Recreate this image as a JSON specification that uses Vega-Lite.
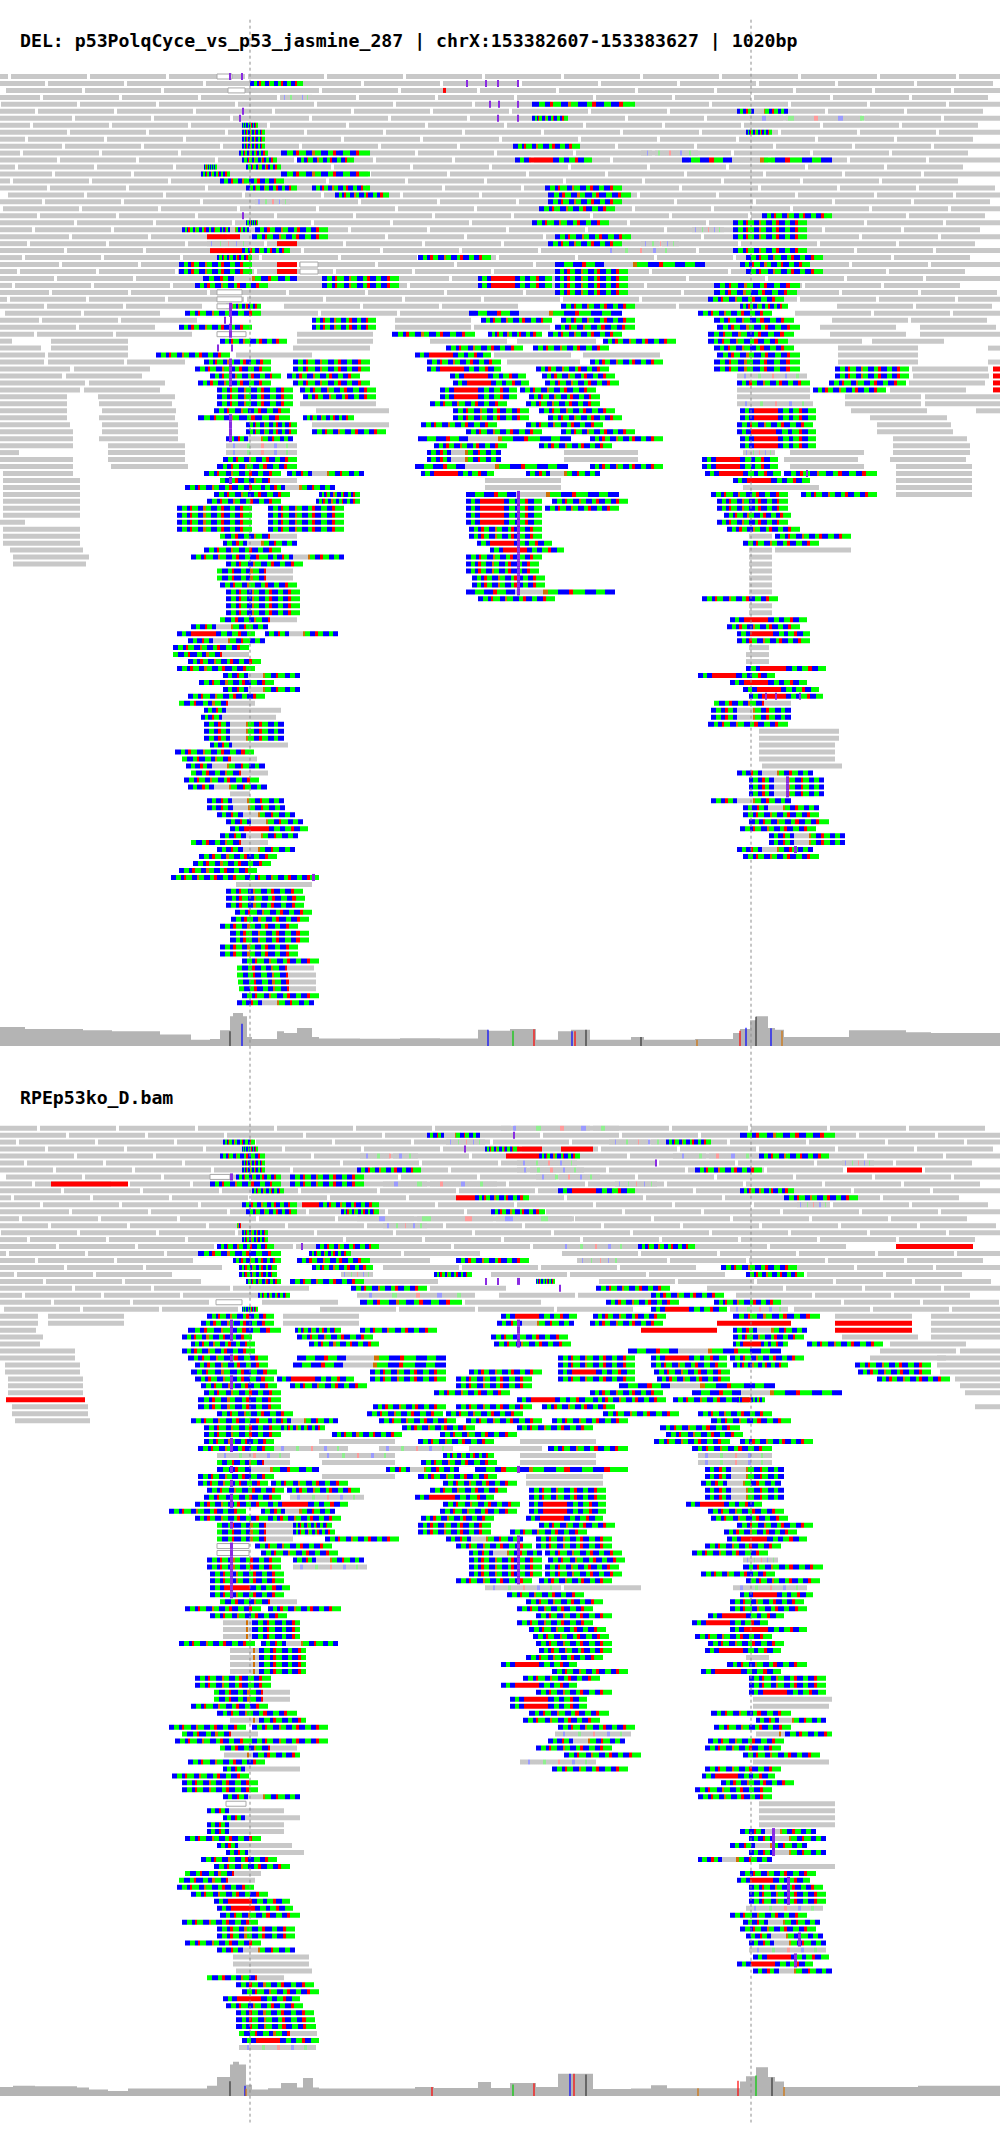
{
  "$schema": "https://vega.github.io/schema/vega-lite/v6.json",
  "width": 1000,
  "height": 2147,
  "autosize": {"type": "fit", "contains": "padding"},
  "padding": 0,
  "background": "white",
  "config": {"view": {"stroke": null}},
  "resolve": {"scale": {"y": "independent"}},
  "layer": [
    {
      "data": {
        "values": "r,s,e,k\n0,0,8,g\n0,11,87,g\n0,90,166,g\n0,169,245,g\n0,248,324,g\n0,327,403,g\n0,406,482,g\n0,485,561,g\n0,564,640,g\n0,643,719,g\n0,722,798,g\n0,801,877,g\n0,880,956,g\n0,959,1000,g\n1,0,45,g\n1,48,124,g\n1,127,203,g\n1,206,282,g\n1,285,361,g\n1,364,440,g\n1,443,519,g\n1,522,598,g\n1,601,677,g\n1,680,756,g\n1,759,835,g\n1,838,914,g\n1,917,993,g\n2,6,82,g\n2,85,161,g\n2,164,240,g\n2,243,319,g\n2,322,398,g\n2,401,477,g\n2,480,556,g\n2,559,635,g\n2,638,714,g\n2,717,793,g\n2,796,872,g\n2,875,951,g\n2,954,1000,g\n3,0,40,g\n3,43,119,g\n3,122,198,g\n3,201,277,g\n3,280,356,g\n3,359,435,g\n3,438,514,g\n3,517,593,g\n3,596,672,g\n3,675,751,g\n3,754,830,g\n3,833,909,g\n3,912,988,g\n4,1,77,g\n4,80,156,g\n4,159,235,g\n4,238,314,g\n4,317,393,g\n4,396,472,g\n4,475,551,g\n4,554,630,g\n4,633,709,g\n4,712,788,g\n4,791,867,g\n4,870,946,g\n4,949,1000,g\n5,0,35,g\n5,38,114,g\n5,117,193,g\n5,196,272,g\n5,275,351,g\n5,354,430,g\n5,433,509,g\n5,512,588,g\n5,591,667,g\n5,670,746,g\n5,749,825,g\n5,828,904,g\n5,907,983,g\n6,0,72,g\n6,75,151,g\n6,154,230,g\n6,233,309,g\n6,312,388,g\n6,391,467,g\n6,470,546,g\n6,549,625,g\n6,628,704,g\n6,707,783,g\n6,786,862,g\n6,865,941,g\n6,944,1000,g\n7,0,30,g\n7,33,109,g\n7,112,188,g\n7,191,267,g\n7,270,346,g\n7,349,425,g\n7,428,504,g\n7,507,583,g\n7,586,662,g\n7,665,741,g\n7,744,820,g\n7,823,899,g\n7,902,978,g\n8,0,67,g\n8,70,146,g\n8,149,225,g\n8,228,304,g\n8,307,383,g\n8,386,462,g\n8,465,541,g\n8,544,620,g\n8,623,699,g\n8,702,778,g\n8,781,857,g\n8,860,936,g\n8,939,1000,g\n9,0,25,g\n9,28,104,g\n9,107,183,g\n9,186,262,g\n9,265,341,g\n9,344,420,g\n9,423,499,g\n9,502,578,g\n9,581,657,g\n9,660,736,g\n9,739,815,g\n9,818,894,g\n9,897,973,g\n10,0,62,g\n10,65,141,g\n10,144,220,g\n10,223,299,g\n10,302,378,g\n10,381,457,g\n10,460,536,g\n10,539,615,g\n10,618,694,g\n10,697,773,g\n10,776,852,g\n10,855,931,g\n10,934,1000,g\n11,0,20,g\n11,23,99,g\n11,102,178,g\n11,181,257,g\n11,260,336,g\n11,339,415,g\n11,418,494,g\n11,497,573,g\n11,576,652,g\n11,655,731,g\n11,734,810,g\n11,813,889,g\n11,892,968,g\n12,0,57,g\n12,60,136,g\n12,139,215,g\n12,218,294,g\n12,297,373,g\n12,376,452,g\n12,455,531,g\n12,534,610,g\n12,613,689,g\n12,692,768,g\n12,771,847,g\n12,850,926,g\n12,929,1000,g\n13,0,15,g\n13,18,94,g\n13,97,173,g\n13,176,252,g\n13,255,331,g\n13,334,410,g\n13,413,489,g\n13,492,568,g\n13,571,647,g\n13,650,726,g\n13,729,805,g\n13,808,884,g\n13,887,963,g\n14,0,52,g\n14,55,131,g\n14,134,210,g\n14,213,289,g\n14,292,368,g\n14,371,447,g\n14,450,526,g\n14,529,605,g\n14,608,684,g\n14,687,763,g\n14,766,842,g\n14,845,921,g\n14,924,1000,g\n15,0,10,g\n15,13,89,g\n15,92,168,g\n15,171,247,g\n15,250,326,g\n15,329,405,g\n15,408,484,g\n15,487,563,g\n15,566,642,g\n15,645,721,g\n15,724,800,g\n15,803,879,g\n15,882,958,g\n16,0,47,g\n16,50,126,g\n16,129,205,g\n16,208,284,g\n16,287,363,g\n16,366,442,g\n16,445,521,g\n16,524,600,g\n16,603,679,g\n16,682,758,g\n16,761,837,g\n16,840,916,g\n16,919,995,g\n17,8,84,g\n17,87,163,g\n17,166,242,g\n17,245,321,g\n17,324,400,g\n17,403,479,g\n17,482,558,g\n17,561,637,g\n17,640,716,g\n17,719,795,g\n17,798,874,g\n17,877,953,g\n17,956,1000,g\n18,0,42,g\n18,45,121,g\n18,124,200,g\n18,203,279,g\n18,282,358,g\n18,361,437,g\n18,440,516,g\n18,519,595,g\n18,598,674,g\n18,677,753,g\n18,756,832,g\n18,835,911,g\n18,914,990,g\n19,3,79,g\n19,82,158,g\n19,161,237,g\n19,240,316,g\n19,319,395,g\n19,398,474,g\n19,477,553,g\n19,556,632,g\n19,635,711,g\n19,714,790,g\n19,793,869,g\n19,872,948,g\n19,951,1000,g\n20,0,37,g\n20,40,116,g\n20,119,195,g\n20,198,274,g\n20,277,353,g\n20,356,432,g\n20,435,511,g\n20,514,590,g\n20,593,669,g\n20,672,748,g\n20,751,827,g\n20,830,906,g\n20,909,985,g\n21,0,74,g\n21,77,153,g\n21,156,232,g\n21,235,311,g\n21,314,390,g\n21,393,469,g\n21,472,548,g\n21,551,627,g\n21,630,706,g\n21,709,785,g\n21,788,864,g\n21,867,943,g\n21,946,1000,g\n22,0,32,g\n22,35,111,g\n22,114,190,g\n22,193,269,g\n22,272,348,g\n22,351,427,g\n22,430,506,g\n22,509,585,g\n22,588,664,g\n22,667,743,g\n22,746,822,g\n22,825,901,g\n22,904,980,g\n23,0,69,g\n23,72,148,g\n23,151,227,g\n23,230,306,g\n23,309,385,g\n23,388,464,g\n23,467,543,g\n23,546,622,g\n23,625,701,g\n23,704,780,g\n23,783,859,g\n23,862,938,g\n23,941,1000,g\n24,0,27,g\n24,30,106,g\n24,109,185,g\n24,188,264,g\n24,267,343,g\n24,346,422,g\n24,425,501,g\n24,504,580,g\n24,583,659,g\n24,662,738,g\n24,741,817,g\n24,820,896,g\n24,899,975,g\n25,0,64,g\n25,67,143,g\n25,146,222,g\n25,225,301,g\n25,304,380,g\n25,383,459,g\n25,462,538,g\n25,541,617,g\n25,620,696,g\n25,699,775,g\n25,778,854,g\n25,857,933,g\n25,936,1000,g\n26,0,22,g\n26,25,101,g\n26,104,180,g\n26,183,259,g\n26,262,338,g\n26,341,417,g\n26,420,496,g\n26,499,575,g\n26,578,654,g\n26,657,733,g\n26,736,812,g\n26,815,891,g\n26,894,970,g\n27,0,59,g\n27,62,138,g\n27,141,217,g\n27,220,296,g\n27,299,375,g\n27,378,454,g\n27,457,533,g\n27,536,612,g\n27,615,691,g\n27,694,770,g\n27,773,849,g\n27,852,928,g\n27,931,1000,g\n28,0,17,g\n28,20,96,g\n28,99,175,g\n28,178,254,g\n28,257,333,g\n28,336,412,g\n28,415,491,g\n28,494,570,g\n28,573,649,g\n28,652,728,g\n28,731,807,g\n28,810,886,g\n28,889,965,g\n29,0,54,g\n29,57,133,g\n29,136,212,g\n29,215,291,g\n29,294,370,g\n29,373,449,g\n29,452,528,g\n29,531,607,g\n29,610,686,g\n29,689,765,g\n29,768,844,g\n29,847,923,g\n29,926,1000,g\n30,0,12,g\n30,15,91,g\n30,94,170,g\n30,173,249,g\n30,252,328,g\n30,331,407,g\n30,410,486,g\n30,489,565,g\n30,568,644,g\n30,647,723,g\n30,726,802,g\n30,805,881,g\n30,884,960,g\n31,0,49,g\n31,52,128,g\n31,131,207,g\n31,210,286,g\n31,289,365,g\n31,368,444,g\n31,447,523,g\n31,526,602,g\n31,605,681,g\n31,684,760,g\n31,763,839,g\n31,842,918,g\n31,921,997,g\n32,0,7,g\n32,10,86,g\n32,89,165,g\n32,168,244,g\n32,247,323,g\n32,326,402,g\n32,405,481,g\n32,484,560,g\n32,563,639,g\n32,642,718,g\n32,721,797,g\n32,800,876,g\n32,879,955,g\n32,958,1000,g\n33,0,44,g\n33,47,123,g\n33,126,202,g\n33,284,360,g\n33,363,439,g\n33,442,518,g\n33,600,676,g\n33,679,755,g\n33,837,913,g\n33,916,992,g\n34,5,81,g\n34,84,160,g\n34,242,318,g\n34,321,397,g\n34,400,476,g\n34,795,871,g\n34,874,950,g\n34,953,1000,g\n35,0,39,g\n35,42,118,g\n35,121,197,g\n35,395,471,g\n35,832,908,g\n35,911,987,g\n36,0,76,g\n36,79,155,g\n36,395,471,g\n36,474,550,g\n36,820,896,g\n36,920,996,g\n37,0,34,g\n37,37,113,g\n37,116,192,g\n37,297,373,g\n37,830,906,g\n37,920,1000,g\n38,0,12,g\n38,51,128,g\n38,297,373,g\n38,430,507,g\n38,517,596,g\n38,788,862,g\n38,872,944,g\n39,0,41,g\n39,51,128,g\n39,293,370,g\n39,838,918,g\n39,988,1000,g\n40,0,45,g\n40,48,128,g\n40,236,312,g\n40,494,571,g\n40,583,660,g\n40,838,918,g\n41,0,44,g\n41,48,124,g\n41,127,185,g\n41,507,580,g\n41,838,918,g\n41,988,1000,g\n42,0,70,g\n42,74,150,g\n42,912,988,g\n43,0,62,g\n43,66,142,g\n43,913,989,g\n44,0,85,g\n44,89,165,g\n44,909,985,g\n45,0,80,g\n45,84,160,g\n45,890,966,g\n46,0,67,g\n46,98,175,g\n46,845,921,g\n46,925,1000,g\n47,0,67,g\n47,99,172,g\n47,300,376,g\n47,845,921,g\n47,925,1000,g\n48,0,67,g\n48,102,176,g\n48,851,927,g\n48,976,1000,g\n49,0,67,g\n49,99,175,g\n49,870,947,g\n50,0,70,g\n50,102,178,g\n50,877,951,g\n51,0,73,g\n51,102,178,g\n51,877,953,g\n52,0,73,g\n52,99,178,g\n52,893,967,g\n53,0,73,g\n53,108,185,g\n53,893,970,g\n54,0,19,g\n54,108,185,g\n54,893,970,g\n55,0,73,g\n55,108,185,g\n55,890,966,g\n56,0,73,g\n56,111,188,g\n56,896,972,g\n57,3,73,g\n57,896,972,g\n58,3,80,g\n58,896,972,g\n59,3,80,g\n59,896,972,g\n60,3,80,g\n60,896,972,g\n61,3,80,g\n62,3,80,g\n63,3,80,g\n64,0,25,g\n65,3,80,g\n66,3,80,g\n67,3,80,g\n68,10,83,g\n69,13,89,g\n70,13,86,g\n0,217,232,w\n0,229,231,i\n0,241,243,i\n1,250,303,a\n1,466,468,i\n1,485,487,i\n1,497,499,i\n1,517,519,i\n2,228,245,w\n2,443,446,r\n3,281,312,l\n4,489,491,i\n4,498,500,i\n4,517,519,i\n4,532,635,a\n5,242,244,i\n5,737,788,b\n6,239,241,i\n6,497,499,i\n6,517,519,i\n6,532,568,a\n6,749,880,l\n7,242,258,a\n8,242,265,a\n8,746,772,a\n9,242,265,a\n10,242,265,a\n10,513,580,a\n11,239,268,a\n11,281,370,a\n11,641,698,l\n12,242,277,a\n12,297,354,a\n12,515,592,e\n12,682,832,b\n13,204,217,a\n13,246,281,a\n14,201,230,a\n14,281,370,a\n15,220,284,a\n16,246,297,a\n16,312,370,a\n16,545,622,a\n17,335,389,a\n17,548,631,a\n18,255,290,l\n18,548,622,a\n19,539,615,a\n20,242,244,i\n20,762,832,a\n21,246,258,a\n21,532,609,a\n21,733,807,a\n22,182,220,a\n22,220,249,b\n22,255,328,a\n22,692,724,l\n22,733,807,a\n23,207,240,r\n23,252,328,a\n23,555,631,a\n23,733,807,a\n24,207,249,l\n24,277,297,r\n24,548,622,a\n24,641,679,l\n25,210,242,r\n25,242,290,a\n25,603,676,l\n25,733,807,a\n26,217,252,a\n26,418,491,a\n26,746,823,a\n27,179,252,a\n27,277,297,r\n27,300,318,w\n27,555,705,b\n27,740,810,a\n28,179,252,a\n28,277,297,r\n28,300,318,w\n28,555,628,a\n28,746,823,a\n29,203,297,b\n29,322,399,a\n29,478,552,e\n29,555,628,a\n30,195,268,a\n30,322,399,a\n30,478,552,e\n30,555,628,a\n30,714,800,a\n31,217,242,w\n31,555,628,a\n31,714,797,a\n32,217,242,w\n32,708,784,a\n33,226,261,a\n33,217,232,w\n33,561,635,a\n33,740,788,a\n33,229,232,i\n34,185,261,a\n34,469,622,b\n34,698,772,a\n34,229,232,i\n35,312,376,a\n35,481,552,a\n35,561,635,a\n35,714,794,a\n35,224,226,i\n35,230,232,i\n36,179,252,a\n36,312,376,a\n36,555,635,a\n36,717,800,a\n36,229,232,i\n37,392,475,a\n37,488,542,a\n37,548,622,a\n37,708,794,a\n37,217,246,w\n37,229,232,i\n38,220,287,a\n38,603,676,a\n38,708,788,a\n39,446,523,a\n39,533,609,a\n39,714,794,a\n39,217,219,i\n39,231,233,i\n40,156,230,a\n40,415,491,e\n40,717,800,a\n41,204,271,a\n41,293,370,a\n41,427,501,a\n41,590,663,a\n41,714,800,a\n41,229,232,i\n42,195,271,a\n42,293,370,a\n42,427,501,e\n42,536,609,a\n42,714,800,a\n42,835,909,a\n42,993,1000,r\n42,229,232,i\n43,210,281,a\n43,287,360,a\n43,450,526,e\n43,542,615,a\n43,737,807,l\n43,835,909,a\n43,993,1000,r\n43,229,232,i\n44,198,271,a\n44,293,370,a\n44,453,529,e\n44,545,619,a\n44,737,810,a\n44,829,906,a\n44,993,1000,r\n44,229,232,i\n45,217,293,a\n45,300,376,a\n45,440,517,e\n45,520,596,a\n45,737,810,g\n45,813,886,a\n45,993,1000,r\n46,217,293,a\n46,303,376,a\n46,440,517,e\n46,529,600,a\n46,737,810,g\n47,217,293,a\n47,430,507,a\n47,526,600,a\n47,737,813,l\n48,214,290,a\n48,316,389,g\n48,453,529,a\n48,539,615,a\n48,740,816,e\n49,198,290,a\n49,303,354,a\n49,453,529,a\n49,548,622,a\n49,740,816,e\n49,229,232,i\n50,246,297,a\n50,312,389,g\n50,421,497,a\n50,526,603,a\n50,737,813,a\n50,229,232,i\n51,246,297,a\n51,312,386,a\n51,466,542,a\n51,561,635,a\n51,737,816,e\n51,229,232,i\n52,226,293,b\n52,418,571,b\n52,590,663,a\n52,740,816,e\n52,229,232,i\n53,226,297,l\n53,434,507,a\n53,539,612,a\n53,740,816,e\n54,226,297,l\n54,427,501,b\n54,564,638,g\n54,743,775,l\n54,790,864,g\n55,223,297,a\n55,427,501,b\n55,564,638,g\n55,702,778,e\n55,784,858,g\n56,217,297,a\n56,415,568,b\n56,590,663,a\n56,702,778,e\n56,790,864,g\n57,204,281,a\n57,287,364,b\n57,421,494,e\n57,526,600,b\n57,705,781,e\n57,784,877,a\n57,806,808,i\n58,220,297,c\n58,485,561,g\n58,733,810,e\n58,229,232,i\n59,185,261,a\n59,261,335,b\n59,485,561,g\n59,743,819,g\n60,214,290,a\n60,319,360,a\n60,466,619,b\n60,711,788,a\n60,801,877,a\n60,517,520,i\n61,207,281,a\n61,316,360,a\n61,466,542,e\n61,552,628,a\n61,717,788,a\n61,517,520,i\n62,177,252,a\n62,268,344,a\n62,466,542,e\n62,545,619,a\n62,717,788,a\n62,517,520,i\n63,177,252,a\n63,268,344,a\n63,466,542,e\n63,724,791,a\n63,517,520,i\n64,177,252,a\n64,268,344,a\n64,466,542,e\n64,717,788,a\n64,517,520,i\n65,177,252,a\n65,268,344,a\n65,469,542,a\n65,727,800,a\n65,517,520,i\n66,220,297,c\n66,469,542,a\n66,749,772,g\n66,775,851,a\n66,517,520,i\n67,223,297,b\n67,477,552,e\n67,743,819,a\n67,517,520,i\n68,204,281,a\n68,490,564,e\n68,749,772,g\n68,775,851,g\n68,517,520,i\n69,191,268,a\n69,268,344,b\n69,466,542,a\n69,749,772,g\n69,517,520,i\n70,226,303,a\n70,466,539,a\n70,749,772,g\n70,517,520,i\n71,217,293,c\n71,466,539,a\n71,749,772,g\n71,517,520,i\n72,217,293,c\n72,472,545,a\n72,749,772,g\n72,517,520,i\n73,220,297,a\n73,472,545,a\n73,749,772,g\n73,517,520,i\n74,226,300,a\n74,466,615,b\n74,749,772,g\n74,517,520,i\n75,226,300,a\n75,478,555,a\n75,702,778,a\n76,226,300,a\n76,749,772,g\n77,226,300,a\n77,749,772,g\n78,220,297,c\n78,730,807,e\n79,191,268,b\n79,727,800,a\n80,177,255,e\n80,265,338,b\n80,737,810,e\n81,188,265,b\n81,737,810,a\n82,173,249,a\n82,749,769,g\n83,173,249,c\n83,746,769,g\n84,188,261,a\n84,746,769,g\n85,177,255,a\n85,746,826,e\n86,223,300,b\n86,698,775,e\n87,199,274,a\n87,730,807,e\n88,223,300,b\n88,743,819,e\n89,188,265,a\n89,749,823,e\n89,765,767,i\n89,775,777,i\n89,799,801,i\n90,179,255,c\n90,714,791,c\n91,204,281,h\n91,711,791,b\n92,201,276,h\n92,711,791,b\n93,204,284,b\n93,708,788,a\n94,204,284,b\n94,759,839,g\n95,204,284,b\n95,759,839,g\n96,210,288,h\n96,759,835,g\n97,175,254,a\n97,759,835,g\n98,182,257,c\n98,759,835,g\n99,186,265,b\n99,762,842,g\n100,191,268,c\n100,737,813,b\n101,184,259,a\n101,749,824,b\n101,786,789,i\n102,188,267,b\n102,749,824,b\n102,786,789,i\n103,230,250,g\n103,749,824,b\n103,786,789,i\n104,207,284,b\n104,711,791,b\n105,207,285,b\n105,743,819,b\n106,217,295,b\n106,743,819,a\n107,226,303,b\n107,749,829,a\n108,230,308,e\n108,740,816,a\n109,220,298,b\n109,769,845,b\n110,191,268,c\n110,769,845,b\n111,217,295,b\n111,737,813,b\n111,794,797,i\n112,199,277,a\n112,743,819,a\n113,193,271,a\n114,179,257,a\n115,171,245,a\n115,245,319,a\n115,312,315,i\n116,236,312,g\n117,226,303,a\n118,226,305,a\n119,226,304,a\n120,235,312,a\n121,231,309,a\n122,220,298,a\n123,230,309,a\n124,230,309,a\n125,220,298,a\n126,220,298,a\n127,242,319,a\n128,237,314,c\n129,237,316,c\n130,238,316,c\n131,239,316,c\n132,242,319,a\n133,237,314,b\n151,0,37,g\n151,40,116,g\n151,119,195,g\n151,198,274,g\n151,277,353,g\n151,356,432,g\n151,435,511,g\n151,514,590,g\n151,593,669,g\n151,672,748,g\n151,751,827,g\n151,830,906,g\n151,909,985,g\n152,0,66,g\n152,69,145,g\n152,148,224,g\n152,227,303,g\n152,306,382,g\n152,385,461,g\n152,464,540,g\n152,543,619,g\n152,622,698,g\n152,701,777,g\n152,780,856,g\n152,859,935,g\n152,938,1000,g\n153,0,16,g\n153,19,95,g\n153,98,174,g\n153,177,253,g\n153,256,332,g\n153,335,411,g\n153,414,490,g\n153,493,569,g\n153,572,648,g\n153,651,727,g\n153,730,806,g\n153,809,885,g\n153,888,964,g\n153,967,1000,g\n154,0,45,g\n154,48,124,g\n154,127,203,g\n154,206,282,g\n154,285,361,g\n154,364,440,g\n154,443,519,g\n154,522,598,g\n154,601,677,g\n154,680,756,g\n154,759,835,g\n154,838,914,g\n154,917,993,g\n155,0,74,g\n155,77,153,g\n155,156,232,g\n155,235,311,g\n155,314,390,g\n155,393,469,g\n155,472,548,g\n155,551,627,g\n155,630,706,g\n155,709,785,g\n155,788,864,g\n155,867,943,g\n155,946,1000,g\n156,0,24,g\n156,27,103,g\n156,106,182,g\n156,185,261,g\n156,264,340,g\n156,343,419,g\n156,422,498,g\n156,501,577,g\n156,580,656,g\n156,659,735,g\n156,738,814,g\n156,817,893,g\n156,896,972,g\n157,0,53,g\n157,56,132,g\n157,135,211,g\n157,214,290,g\n157,293,369,g\n157,372,448,g\n157,451,527,g\n157,530,606,g\n157,609,685,g\n157,688,764,g\n157,767,843,g\n157,925,1000,g\n158,6,82,g\n158,85,161,g\n158,164,240,g\n158,243,319,g\n158,322,398,g\n158,401,477,g\n158,480,556,g\n158,559,635,g\n158,638,714,g\n158,717,793,g\n158,796,872,g\n158,875,951,g\n158,954,1000,g\n159,0,32,g\n159,35,111,g\n159,130,190,g\n159,193,269,g\n159,272,348,g\n159,351,427,g\n159,430,506,g\n159,509,585,g\n159,588,664,g\n159,667,743,g\n159,746,822,g\n159,825,901,g\n159,904,980,g\n160,0,61,g\n160,64,140,g\n160,143,219,g\n160,222,298,g\n160,301,377,g\n160,380,456,g\n160,459,535,g\n160,538,614,g\n160,617,693,g\n160,696,772,g\n160,775,851,g\n160,854,930,g\n160,933,1000,g\n161,0,11,g\n161,14,90,g\n161,93,169,g\n161,172,248,g\n161,251,327,g\n161,330,406,g\n161,409,485,g\n161,488,564,g\n161,567,643,g\n161,646,722,g\n161,725,801,g\n161,804,880,g\n161,883,959,g\n162,0,40,g\n162,43,119,g\n162,122,198,g\n162,201,277,g\n162,280,356,g\n162,359,435,g\n162,438,514,g\n162,517,593,g\n162,596,672,g\n162,675,751,g\n162,754,830,g\n162,833,909,g\n162,912,988,g\n163,0,69,g\n163,72,148,g\n163,151,227,g\n163,230,306,g\n163,309,385,g\n163,388,464,g\n163,467,543,g\n163,546,622,g\n163,625,701,g\n163,704,780,g\n163,783,859,g\n163,862,938,g\n163,941,1000,g\n164,0,19,g\n164,22,98,g\n164,101,177,g\n164,180,256,g\n164,259,335,g\n164,338,414,g\n164,417,493,g\n164,496,572,g\n164,575,651,g\n164,654,730,g\n164,733,809,g\n164,812,888,g\n164,891,967,g\n165,0,48,g\n165,51,127,g\n165,130,206,g\n165,209,285,g\n165,288,364,g\n165,367,443,g\n165,446,522,g\n165,525,601,g\n165,604,680,g\n165,683,759,g\n165,762,838,g\n165,841,917,g\n165,920,996,g\n166,1,77,g\n166,80,156,g\n166,159,235,g\n166,238,314,g\n166,317,393,g\n166,396,472,g\n166,475,551,g\n166,554,630,g\n166,633,709,g\n166,712,788,g\n166,791,867,g\n166,870,946,g\n166,949,1000,g\n167,0,27,g\n167,30,106,g\n167,109,185,g\n167,188,264,g\n167,267,343,g\n167,346,422,g\n167,425,501,g\n167,504,580,g\n167,583,659,g\n167,662,738,g\n167,741,817,g\n167,820,896,g\n167,899,975,g\n168,0,56,g\n168,59,135,g\n168,138,214,g\n168,217,293,g\n168,296,372,g\n168,375,451,g\n168,454,530,g\n168,533,609,g\n168,612,688,g\n168,691,767,g\n168,770,846,g\n169,0,6,g\n169,9,85,g\n169,88,164,g\n169,167,243,g\n169,325,401,g\n169,404,480,g\n169,562,638,g\n169,641,717,g\n169,720,796,g\n169,799,875,g\n169,878,954,g\n169,957,1000,g\n170,0,35,g\n170,38,114,g\n170,117,193,g\n170,354,430,g\n170,591,667,g\n170,670,746,g\n170,749,825,g\n170,828,904,g\n170,907,983,g\n171,0,64,g\n171,67,143,g\n171,146,222,g\n171,383,459,g\n171,462,538,g\n171,541,617,g\n171,620,696,g\n171,778,854,g\n171,857,933,g\n171,936,1000,g\n172,0,14,g\n172,17,93,g\n172,96,172,g\n172,491,567,g\n172,570,646,g\n172,649,725,g\n172,807,883,g\n172,886,962,g\n173,0,43,g\n173,46,122,g\n173,125,201,g\n173,362,438,g\n173,599,675,g\n173,678,754,g\n173,757,833,g\n173,836,912,g\n173,915,991,g\n174,0,72,g\n174,75,151,g\n174,154,230,g\n174,233,309,g\n174,430,506,g\n174,707,783,g\n174,786,862,g\n174,865,941,g\n174,944,1000,g\n175,0,22,g\n175,25,101,g\n175,104,180,g\n175,183,259,g\n175,499,575,g\n175,578,654,g\n175,736,812,g\n175,815,891,g\n175,894,970,g\n176,0,51,g\n176,54,130,g\n176,133,209,g\n176,262,338,g\n176,465,541,g\n176,765,841,g\n176,844,920,g\n176,923,999,g\n177,4,80,g\n177,83,159,g\n177,162,238,g\n177,320,396,g\n177,399,475,g\n177,478,554,g\n177,557,633,g\n177,794,870,g\n177,873,949,g\n177,952,1000,g\n178,0,38,g\n178,48,124,g\n178,283,359,g\n178,835,912,g\n178,931,1000,g\n179,0,38,g\n179,48,124,g\n179,283,359,g\n179,931,1000,g\n180,0,36,g\n180,931,1000,g\n181,0,43,g\n181,842,918,g\n181,931,1000,g\n182,0,40,g\n182,890,966,g\n183,0,75,g\n183,880,956,g\n183,960,1000,g\n184,0,75,g\n184,870,946,g\n184,937,1000,g\n185,5,80,g\n185,937,1000,g\n186,5,80,g\n186,940,1000,g\n187,8,83,g\n187,955,1000,g\n188,8,83,g\n188,960,1000,g\n189,8,83,g\n189,965,1000,g\n191,12,88,g\n191,975,1000,g\n192,12,88,g\n193,15,90,g\n151,501,619,l\n152,427,480,b\n152,513,515,i\n152,740,835,a\n153,223,255,a\n153,446,485,l\n153,609,666,l\n153,666,711,a\n154,242,258,a\n154,464,466,i\n154,485,517,a\n154,517,542,r\n154,561,593,r\n155,220,265,a\n155,360,418,l\n155,506,539,r\n155,539,580,a\n155,673,759,l\n155,759,829,a\n156,242,265,a\n156,517,580,l\n156,655,657,i\n156,842,874,l\n157,242,265,a\n157,357,421,a\n157,517,584,l\n157,695,762,a\n157,847,922,r\n158,210,230,w\n158,236,281,a\n158,290,364,a\n158,536,600,l\n158,230,233,i\n159,51,128,r\n159,210,281,a\n159,290,364,a\n159,383,497,l\n159,615,657,l\n160,252,284,a\n160,558,635,e\n160,740,794,a\n161,456,475,r\n161,475,529,a\n161,784,858,a\n162,242,297,a\n162,302,319,r\n162,319,379,a\n162,797,830,l\n163,246,297,a\n163,341,379,a\n163,491,545,a\n164,357,574,l\n165,237,241,a\n165,383,427,l\n166,242,268,a\n167,242,268,a\n168,217,274,a\n168,301,303,i\n168,316,379,a\n168,558,631,l\n168,638,695,a\n168,896,973,r\n169,198,281,a\n169,309,351,a\n170,233,281,a\n170,297,370,a\n170,456,529,a\n170,577,622,l\n171,239,277,a\n171,312,373,a\n171,721,797,a\n172,239,277,a\n172,341,373,l\n172,434,472,a\n172,746,804,a\n173,246,281,a\n173,290,364,a\n173,485,487,i\n173,497,499,i\n173,517,520,i\n173,536,555,a\n174,351,427,a\n174,559,561,i\n174,596,670,a\n175,258,290,a\n175,357,475,l\n175,651,724,a\n176,216,242,w\n176,360,462,a\n176,606,679,a\n176,714,781,a\n177,242,258,a\n177,651,727,e\n177,730,788,l\n178,207,274,a\n178,501,577,e\n178,593,666,a\n178,733,820,a\n179,201,274,a\n179,497,574,b\n179,590,663,a\n179,717,791,r\n179,835,912,r\n180,188,281,a\n180,295,341,a\n180,360,437,a\n180,641,717,r\n180,733,807,b\n180,835,912,r\n181,182,252,a\n181,297,373,a\n181,491,568,a\n181,733,804,a\n182,191,255,a\n182,309,379,a\n182,494,571,a\n182,733,788,e\n182,807,883,a\n183,182,255,a\n183,628,781,b\n184,188,268,a\n184,297,446,b\n184,558,635,a\n184,651,727,e\n184,730,804,a\n185,195,268,a\n185,293,446,b\n185,558,635,a\n185,651,727,a\n185,733,788,a\n185,855,931,a\n186,191,277,a\n186,370,446,a\n186,469,542,a\n186,558,635,e\n186,654,730,a\n186,858,931,a\n187,195,274,a\n187,277,354,e\n187,370,446,a\n187,456,532,a\n187,558,635,a\n187,657,730,a\n187,877,950,a\n188,201,277,a\n188,290,367,a\n188,456,532,a\n188,619,775,b\n189,204,281,a\n189,434,510,a\n189,590,663,a\n189,692,842,b\n190,6,85,r\n190,198,281,a\n190,517,593,e\n190,593,666,a\n190,673,749,a\n190,737,765,e\n191,198,281,a\n191,373,446,a\n191,456,532,a\n191,542,615,a\n192,217,293,a\n192,367,443,a\n192,446,523,a\n192,603,679,a\n192,698,772,a\n193,191,268,a\n193,268,338,b\n193,379,456,a\n193,466,542,a\n193,552,628,a\n193,711,791,a\n194,204,281,a\n194,281,325,a\n194,402,475,a\n194,517,593,a\n194,660,740,a\n195,204,281,a\n195,332,402,a\n195,440,517,a\n195,666,743,a\n196,204,274,a\n196,319,395,g\n196,418,494,a\n196,520,596,g\n196,654,730,a\n196,740,813,a\n197,198,274,a\n197,274,348,l\n197,379,453,l\n197,469,542,g\n197,548,628,a\n197,692,772,a\n198,217,290,l\n198,319,395,l\n198,443,494,a\n198,520,596,g\n198,698,772,l\n199,217,290,c\n199,322,395,g\n199,421,497,a\n199,520,596,g\n199,698,772,l\n200,217,319,b\n200,386,459,b\n200,475,628,a\n200,705,784,b\n201,198,274,a\n201,322,395,g\n201,418,497,a\n201,526,603,g\n201,705,784,b\n202,198,268,a\n202,271,348,a\n202,443,517,a\n202,526,603,g\n202,701,781,b\n203,207,284,a\n203,287,360,a\n203,430,507,a\n203,529,606,a\n203,705,784,b\n204,204,281,a\n204,290,364,l\n204,415,494,e\n204,529,606,a\n204,705,784,b\n205,195,268,a\n205,268,348,e\n205,443,520,a\n205,529,606,e\n205,686,762,e\n206,169,246,a\n206,261,335,b\n206,440,517,a\n206,529,606,e\n206,708,784,a\n207,195,268,a\n207,268,341,a\n207,421,494,a\n207,526,603,e\n207,711,788,a\n208,217,293,c\n208,293,332,a\n208,418,491,a\n208,539,615,a\n208,737,813,a\n209,217,293,c\n209,293,335,a\n209,418,491,a\n209,510,587,a\n209,724,797,a\n210,217,293,c\n210,325,399,a\n210,446,523,b\n210,536,612,a\n210,727,807,e\n211,217,249,w\n211,255,332,a\n211,456,532,a\n211,536,612,a\n211,705,781,a\n212,217,249,w\n212,261,338,a\n212,469,542,b\n212,545,622,a\n212,692,768,a\n213,207,281,a\n213,293,364,b\n213,469,542,a\n213,548,625,a\n213,743,778,l\n214,207,281,a\n214,293,367,l\n214,469,542,a\n214,545,619,a\n214,743,823,a\n215,210,284,a\n215,469,542,a\n215,545,622,a\n215,701,775,a\n216,210,284,a\n216,456,532,a\n216,539,612,a\n216,746,820,a\n217,210,290,e\n217,485,561,l\n217,564,641,g\n217,733,807,l\n218,210,284,a\n218,507,584,a\n218,740,813,e\n219,220,297,c\n219,526,603,a\n219,730,804,a\n220,185,261,a\n220,268,341,a\n220,517,593,a\n220,730,807,a\n221,210,287,a\n221,536,612,a\n221,708,784,e\n222,223,300,d\n222,517,593,a\n222,692,768,e\n223,223,300,d\n223,529,606,a\n223,730,807,e\n224,223,300,d\n224,533,609,a\n224,695,772,a\n225,179,255,a\n225,261,338,b\n225,536,612,a\n225,708,784,a\n226,230,306,d\n226,539,612,a\n226,705,781,e\n227,230,306,d\n227,526,603,a\n227,746,769,g\n228,230,306,d\n228,501,577,e\n228,727,807,a\n229,230,306,d\n229,552,628,a\n229,701,781,e\n230,195,271,a\n230,523,600,a\n230,749,826,a\n231,195,271,a\n231,501,577,e\n231,749,826,a\n232,214,290,c\n232,536,612,a\n232,749,826,e\n233,214,290,c\n233,510,587,e\n233,753,832,g\n234,191,268,a\n234,510,587,e\n234,753,829,g\n235,217,297,a\n235,529,609,a\n235,711,791,a\n236,230,306,d\n236,523,600,a\n236,756,826,b\n237,169,246,a\n237,252,328,a\n237,558,635,a\n237,714,791,a\n238,182,258,c\n238,555,631,l\n238,756,832,d\n239,175,252,a\n239,252,328,a\n239,548,625,b\n239,708,784,a\n240,220,297,c\n240,536,612,a\n240,705,781,a\n241,224,300,d\n241,564,641,a\n241,743,820,a\n242,188,265,a\n242,520,596,l\n242,753,829,g\n243,223,300,h\n243,552,628,a\n243,705,781,a\n244,172,249,a\n244,702,775,e\n245,182,258,a\n245,721,794,a\n246,182,258,a\n246,695,772,a\n247,223,300,b\n247,698,772,a\n248,226,246,w\n248,759,835,g\n249,207,284,h\n249,759,835,g\n250,223,300,h\n250,759,835,g\n251,207,284,h\n251,759,835,g\n252,207,284,h\n252,740,816,b\n253,185,261,a\n253,749,826,b\n254,217,292,h\n254,730,807,b\n255,226,304,h\n255,749,826,b\n256,201,277,a\n256,698,772,b\n257,214,290,a\n257,759,835,g\n258,185,261,c\n258,740,816,a\n259,179,255,c\n259,737,810,e\n260,177,254,a\n260,749,823,a\n261,191,268,a\n261,749,826,a\n262,214,290,e\n262,749,826,a\n263,217,293,e\n263,746,823,l\n264,220,300,a\n264,730,807,a\n265,182,258,a\n265,743,820,b\n266,217,295,a\n266,740,816,a\n267,217,295,a\n267,746,823,b\n268,185,261,a\n268,749,826,b\n269,217,295,b\n269,749,826,l\n270,233,309,g\n270,753,829,e\n271,233,309,g\n271,737,813,e\n272,236,312,g\n272,753,832,b\n273,207,284,c\n274,236,314,a\n275,242,319,a\n276,223,300,e\n277,226,303,a\n278,236,314,a\n279,236,315,a\n280,236,316,a\n281,239,317,c\n282,242,319,e\n283,239,316,l\n179,230,233,i\n180,230,233,i\n181,230,233,i\n184,230,233,i\n187,230,233,i\n188,230,233,i\n196,230,233,i\n197,230,233,i\n200,230,233,i\n202,230,233,i\n204,230,233,i\n205,230,233,i\n208,230,233,i\n211,230,233,i\n212,230,233,i\n213,230,233,i\n214,230,233,i\n215,230,233,i\n216,230,233,i\n217,230,233,i\n218,230,233,i\n179,517,520,i\n180,517,520,i\n181,517,520,i\n182,517,520,i\n200,517,520,i\n210,517,520,i\n211,517,520,i\n212,517,520,i\n213,517,520,i\n214,517,520,i\n215,517,520,i\n216,517,520,i\n252,772,775,i\n253,772,775,i\n254,772,775,i\n255,772,775,i\n259,787,790,i\n260,787,790,i\n261,787,790,i\n262,787,790,i\n267,798,801,i\n268,798,801,i\n270,794,797,i\n271,794,797,i",
        "format": {"type": "csv", "parse": {"r": "number", "s": "number", "e": "number"}}
      },
      "encoding": {
        "x": {"field": "s", "type": "quantitative", "scale": {"domain": [0, 1000], "nice": false, "zero": false}, "axis": null},
        "x2": {"field": "e"},
        "y": {"field": "r", "type": "quantitative", "scale": {"domain": [0, 283], "range": [71.5, 2052.5], "nice": false, "zero": false}, "axis": null}
      },
      "layer": [
        {"transform": [{"filter": "datum.k === 'g'"}], "mark": {"type": "bar", "orient": "horizontal", "height": 5, "color": "#c8c8c8"}},
        {"transform": [{"filter": "datum.k === 'l'"}], "mark": {"type": "bar", "orient": "horizontal", "height": 5, "color": {"gradient": "linear", "stops": [
          {"offset": 0, "color": "#c8c8c8"}, {"offset": 0.1, "color": "#c8c8c8"}, {"offset": 0.1, "color": "#9a9aff"}, {"offset": 0.13, "color": "#9a9aff"},
          {"offset": 0.13, "color": "#c8c8c8"}, {"offset": 0.3, "color": "#c8c8c8"}, {"offset": 0.3, "color": "#8fef8f"}, {"offset": 0.34, "color": "#8fef8f"},
          {"offset": 0.34, "color": "#c8c8c8"}, {"offset": 0.5, "color": "#c8c8c8"}, {"offset": 0.5, "color": "#ff9a9a"}, {"offset": 0.53, "color": "#ff9a9a"},
          {"offset": 0.53, "color": "#c8c8c8"}, {"offset": 0.68, "color": "#c8c8c8"}, {"offset": 0.68, "color": "#9a9aff"}, {"offset": 0.72, "color": "#9a9aff"},
          {"offset": 0.72, "color": "#c8c8c8"}, {"offset": 0.85, "color": "#c8c8c8"}, {"offset": 0.85, "color": "#8fef8f"}, {"offset": 0.88, "color": "#8fef8f"},
          {"offset": 0.88, "color": "#c8c8c8"}, {"offset": 1, "color": "#c8c8c8"}]}}},
        {"transform": [{"filter": "datum.k === 'a'"}], "mark": {"type": "bar", "orient": "horizontal", "height": 5, "color": {"gradient": "linear", "stops": [
          {"offset": 0, "color": "#00f"}, {"offset": 0.07, "color": "#00f"}, {"offset": 0.07, "color": "#0f0"}, {"offset": 0.13, "color": "#0f0"},
          {"offset": 0.13, "color": "#00f"}, {"offset": 0.17, "color": "#00f"}, {"offset": 0.17, "color": "#f00"}, {"offset": 0.2, "color": "#f00"},
          {"offset": 0.2, "color": "#0f0"}, {"offset": 0.28, "color": "#0f0"}, {"offset": 0.28, "color": "#00f"}, {"offset": 0.35, "color": "#00f"},
          {"offset": 0.35, "color": "#d17105"}, {"offset": 0.38, "color": "#d17105"}, {"offset": 0.38, "color": "#0f0"}, {"offset": 0.45, "color": "#0f0"},
          {"offset": 0.45, "color": "#00f"}, {"offset": 0.53, "color": "#00f"}, {"offset": 0.53, "color": "#0f0"}, {"offset": 0.58, "color": "#0f0"},
          {"offset": 0.58, "color": "#f00"}, {"offset": 0.62, "color": "#f00"}, {"offset": 0.62, "color": "#00f"}, {"offset": 0.7, "color": "#00f"},
          {"offset": 0.7, "color": "#0f0"}, {"offset": 0.77, "color": "#0f0"}, {"offset": 0.77, "color": "#00f"}, {"offset": 0.84, "color": "#00f"},
          {"offset": 0.84, "color": "#f00"}, {"offset": 0.88, "color": "#f00"}, {"offset": 0.88, "color": "#0f0"}, {"offset": 1, "color": "#0f0"}]}}},
        {"transform": [{"filter": "datum.k === 'b'"}], "mark": {"type": "bar", "orient": "horizontal", "height": 5, "color": {"gradient": "linear", "stops": [
          {"offset": 0, "color": "#00f"}, {"offset": 0.06, "color": "#00f"}, {"offset": 0.06, "color": "#0f0"}, {"offset": 0.12, "color": "#0f0"},
          {"offset": 0.12, "color": "#00f"}, {"offset": 0.18, "color": "#00f"}, {"offset": 0.18, "color": "#f00"}, {"offset": 0.21, "color": "#f00"},
          {"offset": 0.21, "color": "#0f0"}, {"offset": 0.27, "color": "#0f0"}, {"offset": 0.27, "color": "#00f"}, {"offset": 0.33, "color": "#00f"},
          {"offset": 0.33, "color": "#c8c8c8"}, {"offset": 0.52, "color": "#c8c8c8"}, {"offset": 0.52, "color": "#d17105"}, {"offset": 0.55, "color": "#d17105"},
          {"offset": 0.55, "color": "#0f0"}, {"offset": 0.62, "color": "#0f0"}, {"offset": 0.62, "color": "#00f"}, {"offset": 0.69, "color": "#00f"},
          {"offset": 0.69, "color": "#f00"}, {"offset": 0.72, "color": "#f00"}, {"offset": 0.72, "color": "#0f0"}, {"offset": 0.8, "color": "#0f0"},
          {"offset": 0.8, "color": "#00f"}, {"offset": 0.87, "color": "#00f"}, {"offset": 0.87, "color": "#0f0"}, {"offset": 0.93, "color": "#0f0"},
          {"offset": 0.93, "color": "#00f"}, {"offset": 1, "color": "#00f"}]}}},
        {"transform": [{"filter": "datum.k === 'c'"}], "mark": {"type": "bar", "orient": "horizontal", "height": 5, "color": {"gradient": "linear", "stops": [
          {"offset": 0, "color": "#0f0"}, {"offset": 0.07, "color": "#0f0"}, {"offset": 0.07, "color": "#00f"}, {"offset": 0.14, "color": "#00f"},
          {"offset": 0.14, "color": "#0f0"}, {"offset": 0.2, "color": "#0f0"}, {"offset": 0.2, "color": "#f00"}, {"offset": 0.23, "color": "#f00"},
          {"offset": 0.23, "color": "#00f"}, {"offset": 0.31, "color": "#00f"}, {"offset": 0.31, "color": "#0f0"}, {"offset": 0.38, "color": "#0f0"},
          {"offset": 0.38, "color": "#00f"}, {"offset": 0.44, "color": "#00f"}, {"offset": 0.44, "color": "#d17105"}, {"offset": 0.47, "color": "#d17105"},
          {"offset": 0.47, "color": "#0f0"}, {"offset": 0.55, "color": "#0f0"}, {"offset": 0.55, "color": "#00f"}, {"offset": 0.62, "color": "#00f"},
          {"offset": 0.62, "color": "#f00"}, {"offset": 0.65, "color": "#f00"}, {"offset": 0.65, "color": "#c8c8c8"}, {"offset": 1, "color": "#c8c8c8"}]}}},
        {"transform": [{"filter": "datum.k === 'd'"}], "mark": {"type": "bar", "orient": "horizontal", "height": 5, "color": {"gradient": "linear", "stops": [
          {"offset": 0, "color": "#c8c8c8"}, {"offset": 0.3, "color": "#c8c8c8"}, {"offset": 0.3, "color": "#d17105"}, {"offset": 0.33, "color": "#d17105"},
          {"offset": 0.33, "color": "#c8c8c8"}, {"offset": 0.38, "color": "#c8c8c8"}, {"offset": 0.38, "color": "#00f"}, {"offset": 0.45, "color": "#00f"},
          {"offset": 0.45, "color": "#0f0"}, {"offset": 0.52, "color": "#0f0"}, {"offset": 0.52, "color": "#00f"}, {"offset": 0.57, "color": "#00f"},
          {"offset": 0.57, "color": "#f00"}, {"offset": 0.6, "color": "#f00"}, {"offset": 0.6, "color": "#0f0"}, {"offset": 0.68, "color": "#0f0"},
          {"offset": 0.68, "color": "#00f"}, {"offset": 0.76, "color": "#00f"}, {"offset": 0.76, "color": "#0f0"}, {"offset": 0.82, "color": "#0f0"},
          {"offset": 0.82, "color": "#00f"}, {"offset": 0.9, "color": "#00f"}, {"offset": 0.9, "color": "#f00"}, {"offset": 0.93, "color": "#f00"},
          {"offset": 0.93, "color": "#0f0"}, {"offset": 1, "color": "#0f0"}]}}},
        {"transform": [{"filter": "datum.k === 'e'"}], "mark": {"type": "bar", "orient": "horizontal", "height": 5, "color": {"gradient": "linear", "stops": [
          {"offset": 0, "color": "#00f"}, {"offset": 0.06, "color": "#00f"}, {"offset": 0.06, "color": "#0f0"}, {"offset": 0.12, "color": "#0f0"},
          {"offset": 0.12, "color": "#00f"}, {"offset": 0.18, "color": "#00f"}, {"offset": 0.18, "color": "#f00"}, {"offset": 0.5, "color": "#f00"},
          {"offset": 0.5, "color": "#00f"}, {"offset": 0.57, "color": "#00f"}, {"offset": 0.57, "color": "#0f0"}, {"offset": 0.64, "color": "#0f0"},
          {"offset": 0.64, "color": "#00f"}, {"offset": 0.7, "color": "#00f"}, {"offset": 0.7, "color": "#0f0"}, {"offset": 0.78, "color": "#0f0"},
          {"offset": 0.78, "color": "#f00"}, {"offset": 0.82, "color": "#f00"}, {"offset": 0.82, "color": "#00f"}, {"offset": 0.9, "color": "#00f"},
          {"offset": 0.9, "color": "#0f0"}, {"offset": 1, "color": "#0f0"}]}}},
        {"transform": [{"filter": "datum.k === 'h'"}], "mark": {"type": "bar", "orient": "horizontal", "height": 5, "color": {"gradient": "linear", "stops": [
          {"offset": 0, "color": "#00f"}, {"offset": 0.05, "color": "#00f"}, {"offset": 0.05, "color": "#0f0"}, {"offset": 0.1, "color": "#0f0"},
          {"offset": 0.1, "color": "#00f"}, {"offset": 0.15, "color": "#00f"}, {"offset": 0.15, "color": "#f00"}, {"offset": 0.18, "color": "#f00"},
          {"offset": 0.18, "color": "#0f0"}, {"offset": 0.24, "color": "#0f0"}, {"offset": 0.24, "color": "#00f"}, {"offset": 0.28, "color": "#00f"},
          {"offset": 0.28, "color": "#c8c8c8"}, {"offset": 1, "color": "#c8c8c8"}]}}},
        {"transform": [{"filter": "datum.k === 'r'"}], "mark": {"type": "bar", "orient": "horizontal", "height": 5, "color": "#ff0000"}},
        {"transform": [{"filter": "datum.k === 'w'"}], "mark": {"type": "bar", "orient": "horizontal", "height": 5, "fill": "#ffffff", "stroke": "#a8a8a8", "strokeWidth": 1}},
        {"transform": [{"filter": "datum.k === 'i'"}], "mark": {"type": "bar", "orient": "horizontal", "height": 7, "color": "#8a2be2"}}
      ]
    },
    {
      "data": {
        "values": "x,c\n0,75\n25,67\n83,62\n112,58\n160,45\n191,25\n210,28\n220,62\n230,117\n233,130\n243,117\n247,35\n252,28\n277,58\n284,51\n297,71\n312,35\n319,30\n360,29\n400,31\n440,30\n478,64\n488,60\n510,67\n536,25\n558,58\n571,64\n590,25\n631,35\n644,25\n695,28\n733,51\n740,67\n750,101\n756,117\n768,71\n775,64\n784,35\n849,62\n906,54\n931,51\n1000,51",
        "format": {"type": "csv", "parse": {"x": "number", "c": "number"}}
      },
      "encoding": {
        "x": {"field": "x", "type": "quantitative", "scale": {"domain": [0, 1000], "nice": false, "zero": false}, "axis": null},
        "y": {"field": "c", "type": "quantitative", "scale": {"domain": [0, 134], "range": [1046, 1012], "nice": false}, "axis": null}
      },
      "layer": [
        {"mark": {"type": "area", "interpolate": "step-after", "color": "#b4b4b4"}},
        {
          "data": {
            "values": "x,c,col\n230,58,#333333\n242,88,#0000ff\n488,64,#0000ff\n513,60,#00cc00\n534,66,#ff0000\n572,58,#0000ff\n575,58,#ff0000\n586,64,#333333\n641,35,#333333\n697,25,#d17105\n740,60,#ff0000\n746,72,#0000ff\n756,115,#333333\n771,70,#0000ff\n782,60,#d17105",
            "format": {"type": "csv", "parse": {"x": "number", "c": "number"}}
          },
          "mark": {"type": "rule", "strokeWidth": 1.2},
          "encoding": {
            "y2": {"datum": 0},
            "color": {"field": "col", "type": "nominal", "scale": null}
          }
        },
        {
          "data": {"values": [{}]},
          "mark": {"type": "rule", "color": "#808080", "strokeWidth": 1.5},
          "encoding": {"x": {"datum": 0}, "x2": {"datum": 1000}, "y": {"datum": 0}}
        },
        {
          "data": {"values": [{}]},
          "mark": {"type": "rule", "color": "#000000", "strokeWidth": 1.5},
          "encoding": {"x": {"datum": 0}, "x2": {"datum": 1000}, "y": {"datum": -63}}
        },
        {
          "data": {"values": [{}]},
          "mark": {"type": "text", "align": "right", "baseline": "alphabetic", "font": "DejaVu Sans Mono", "fontSize": 8.5, "color": "#222222"},
          "encoding": {"x": {"datum": 995}, "y": {"datum": 118}, "text": {"value": "[0-134]"}}
        }
      ]
    },
    {
      "data": {
        "values": "x,c\n0,35\n13,40\n35,38\n77,33\n89,25\n108,20\n128,29\n207,40\n217,74\n230,123\n233,134\n239,123\n246,44\n252,25\n268,30\n281,51\n297,33\n303,70\n313,33\n319,29\n415,35\n434,31\n478,55\n491,31\n510,51\n536,35\n558,87\n593,27\n631,29\n651,42\n667,30\n740,57\n746,77\n756,112\n768,74\n775,57\n784,35\n918,40\n1000,40",
        "format": {"type": "csv", "parse": {"x": "number", "c": "number"}}
      },
      "encoding": {
        "x": {"field": "x", "type": "quantitative", "scale": {"domain": [0, 1000], "nice": false, "zero": false}, "axis": null},
        "y": {"field": "c", "type": "quantitative", "scale": {"domain": [0, 133], "range": [2096, 2062], "nice": false}, "axis": null}
      },
      "layer": [
        {"mark": {"type": "area", "interpolate": "step-after", "color": "#b4b4b4"}},
        {
          "data": {
            "values": "x,c,col\n230,58,#333333\n245,40,#0000ff\n246,28,#d17105\n432,35,#ff0000\n513,45,#00cc00\n534,50,#ff0000\n570,87,#0000ff\n574,87,#ff0000\n586,84,#333333\n698,30,#d17105\n738,60,#ff0000\n756,80,#00cc00\n772,72,#333333\n784,35,#d17105",
            "format": {"type": "csv", "parse": {"x": "number", "c": "number"}}
          },
          "mark": {"type": "rule", "strokeWidth": 1.2},
          "encoding": {
            "y2": {"datum": 0},
            "color": {"field": "col", "type": "nominal", "scale": null}
          }
        },
        {
          "data": {"values": [{}]},
          "mark": {"type": "rule", "color": "#808080", "strokeWidth": 1.5},
          "encoding": {"x": {"datum": 0}, "x2": {"datum": 1000}, "y": {"datum": 0}}
        },
        {
          "data": {"values": [{}]},
          "mark": {"type": "rule", "color": "#000000", "strokeWidth": 1.5},
          "encoding": {"x": {"datum": 0}, "x2": {"datum": 1000}, "y": {"datum": -62.6}}
        },
        {
          "data": {"values": [{}]},
          "mark": {"type": "text", "align": "right", "baseline": "alphabetic", "font": "DejaVu Sans Mono", "fontSize": 8.5, "color": "#222222"},
          "encoding": {"x": {"datum": 995}, "y": {"datum": 121}, "text": {"value": "[0-133]"}}
        }
      ]
    },
    {
      "data": {"values": [{"x": 250}, {"x": 751}]},
      "mark": {"type": "rule", "color": "#8c8c8c", "strokeWidth": 1, "strokeDash": [3, 3]},
      "encoding": {
        "x": {"field": "x", "type": "quantitative", "scale": {"domain": [0, 1000], "nice": false, "zero": false}, "axis": null},
        "y": {"datum": -7.4, "type": "quantitative", "scale": {"domain": [0, 283], "range": [71.5, 2052.5], "nice": false, "zero": false}, "axis": null},
        "y2": {"datum": 293}
      }
    },
    {
      "data": {"values": [
        {"t": "DEL: p53PolqCyce_vs_p53_jasmine_287 | chrX:153382607-153383627 | 1020bp", "r": -3.57},
        {"t": "RPEp53ko_D.bam", "r": 147.5}
      ]},
      "mark": {"type": "text", "align": "left", "baseline": "alphabetic", "font": "DejaVu Sans Mono", "fontSize": 18.2, "fontWeight": "bold", "color": "#000000"},
      "encoding": {
        "x": {"datum": 20, "type": "quantitative"},
        "y": {"field": "r", "type": "quantitative", "scale": {"domain": [0, 283], "range": [71.5, 2052.5], "nice": false, "zero": false}, "axis": null},
        "text": {"field": "t"}
      }
    }
  ]
}
